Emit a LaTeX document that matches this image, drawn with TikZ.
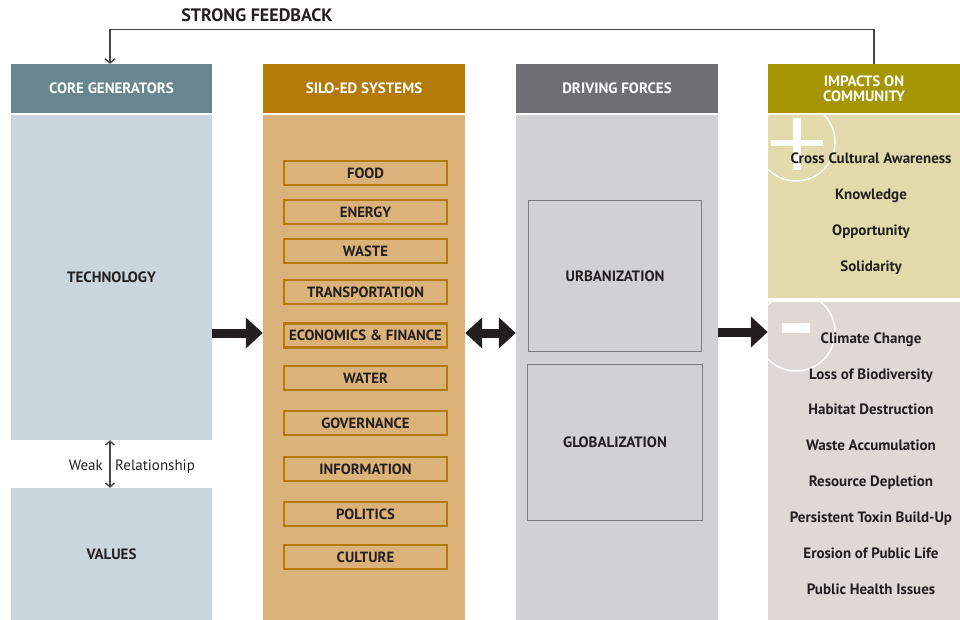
\documentclass[tikz,border=0pt]{standalone}
\usepackage{fontspec}
\setmainfont{PT Sans}
\usetikzlibrary{arrows.meta,positioning,calc}
\definecolor{corehd}{HTML}{678690}
\definecolor{corebg}{HTML}{C9D6DE}
\definecolor{silohd}{HTML}{B37A08}
\definecolor{silobg}{HTML}{DBB27A}
\definecolor{drivehd}{HTML}{6F6E73}
\definecolor{drivebg}{HTML}{D1D1D3}
\definecolor{drivebox}{HTML}{7A797C}
\definecolor{imphd}{HTML}{A59500}
\definecolor{impplus}{HTML}{E2DAAA}
\definecolor{impminus}{HTML}{E0D8D5}
\definecolor{inkdark}{HTML}{231F20}
\definecolor{linegray}{HTML}{444444}
\tikzset{
    colhead/.style = {inner sep=0pt, text=white, align=center, font=\bfseries\fontsize{15}{15}\selectfont},
    colbody/.style = {inner sep=0pt, text=inkdark, font=\bfseries\fontsize{15}{15}\selectfont},
    silobox/.style = {draw=silohd, line width=2.5pt, minimum width=163pt, minimum height=24pt, inner sep=0pt, text=inkdark, font=\bfseries\fontsize{14.8}{15}\selectfont},
    drivebox/.style = {draw=drivebox, line width=1.3pt, minimum width=173pt, inner sep=0pt, text=inkdark, font=\bfseries\fontsize{15}{15}\selectfont},
    imptext/.style = {inner sep=1pt, text height=10.5pt, text depth=0pt, text=inkdark, font=\bfseries\fontsize{15}{15}\selectfont},
    bigarrow/.style = {draw=inkdark, line width=9pt, -{Triangle[length=17pt,width=30pt]}},
    thinarrow/.style = {draw=linegray, line width=1.4pt}
}

\begin{document}
\begin{tikzpicture}[x=1pt,y=-1pt]
    \useasboundingbox (0,0) rectangle (960,620);

    % CORE GENERATORS
    \node[colhead, fill=corehd, minimum width=201pt, minimum height=49pt] (corehead) at (111.5,88.5) {CORE GENERATORS};
    \node[colbody, fill=corebg, minimum width=201pt, minimum height=325pt] (tech) at (111.5,277.5) {TECHNOLOGY};
    \node[colbody, fill=corebg, minimum width=201pt, minimum height=132pt] (values) at (111.5,554) {VALUES};

    % SILO-ED SYSTEMS
    \node[colhead, fill=silohd, minimum width=202pt, minimum height=49pt] (silohead) at (364,88.5) {SILO-ED SYSTEMS};
    \node[colbody, fill=silobg, minimum width=202pt, minimum height=505pt] (silo) at (364,367.5) {};

    \node[silobox] (food) at (365.5,173) {FOOD};
    \node[silobox] (energy) at (365.5,212) {ENERGY};
    \node[silobox] (waste) at (365.5,251) {WASTE};
    \node[silobox] (transport) at (365.5,292) {TRANSPORTATION};
    \node[silobox] (econ) at (365.5,335.5) {ECONOMICS \& FINANCE};
    \node[silobox] (water) at (365.5,378) {WATER};
    \node[silobox] (govern) at (365.5,423) {GOVERNANCE};
    \node[silobox] (info) at (365.5,469) {INFORMATION};
    \node[silobox] (politics) at (365.5,514) {POLITICS};
    \node[silobox] (culture) at (365.5,557) {CULTURE};

    % DRIVING FORCES
    \node[colhead, fill=drivehd, minimum width=202pt, minimum height=49pt] (drivehead) at (617,88.5) {DRIVING FORCES};
    \node[colbody, fill=drivebg, minimum width=202pt, minimum height=505pt] (drive) at (617,367.5) {};
    \node[drivebox, minimum height=151pt] (urban) at (615,276) {URBANIZATION};
    \node[drivebox, minimum width=175pt, minimum height=156pt] (global) at (615,442.5) {GLOBALIZATION};

    % IMPACTS ON COMMUNITY
    \node[colhead, fill=imphd, minimum width=192pt, minimum height=49pt] (imphead) at (864,89) {IMPACTS ON\\COMMUNITY};
    \node[colbody, fill=impplus, minimum width=192pt, minimum height=183pt] (plus) at (864,206.5) {};
    \node[colbody, fill=impminus, minimum width=192pt, minimum height=318pt] (minus) at (864,461) {};

    \begin{scope}
        \clip (plus.north west) rectangle (plus.south east);
        \draw[white, line width=1.5pt] (796,142) circle[radius=39];
    \end{scope}
    \begin{scope}
        \clip (minus.north west) rectangle (minus.south east);
        \draw[white, line width=1.5pt] (796,332) circle[radius=39];
    \end{scope}
    \fill[white] (771,140) rectangle (823,146);
    \fill[white] (793,118) rectangle (801,170);
    \fill[white] (782,323) rectangle (810,333);

    \node[imptext] (awareness) at (871,158) {Cross Cultural Awareness};
    \node[imptext] (knowledge) at (871,194) {Knowledge};
    \node[imptext] (opportunity) at (871,230) {Opportunity};
    \node[imptext] (solidarity) at (871,266) {Solidarity};

    \node[imptext] (climate) at (871,338) {Climate Change};
    \node[imptext] (biodiv) at (871,374) {Loss of Biodiversity};
    \node[imptext] (habitat) at (871,409) {Habitat Destruction};
    \node[imptext] (wasteacc) at (871,445) {Waste Accumulation};
    \node[imptext] (depletion) at (871,481) {Resource Depletion};
    \node[imptext] (toxin) at (871,517) {Persistent Toxin Build-Up};
    \node[imptext] (publife) at (871,553) {Erosion of Public Life};
    \node[imptext] (health) at (871,589) {Public Health Issues};

    %% arrows between columns
    \draw[bigarrow] (tech.east |- 0,333) -- (silo.west |- 0,333);
    \draw[bigarrow, {Triangle[length=17pt,width=30pt]}-{Triangle[length=17pt,width=30pt]}] (silo.east |- 0,333) -- (drive.west |- 0,333);
    \draw[bigarrow] (drive.east |- 0,332) -- (minus.west |- 0,332);

    % weak relationship
    \draw[thinarrow, {Straight Barb[length=4pt,width=9pt]}-{Straight Barb[length=4pt,width=9pt]}] ([xshift=-1.5pt]tech.south) -- ([xshift=-1.5pt]values.north);
    \node[imptext, font=\fontsize{15}{15}\selectfont, anchor=base east] (weak) at (104,470) {Weak};
    \node[imptext, font=\fontsize{15}{15}\selectfont, anchor=base west] (relation) at (114,470) {Relationship};

    % strong feedback
    \draw[thinarrow, -{Straight Barb[length=4pt,width=10pt]}] ([xshift=10pt]imphead.north) -- ++(0,-35) -| ([xshift=-1.5pt]corehead.north);
    \node[imptext, font=\bfseries\fontsize{18}{18}\selectfont] (fbtext) at (257,16) {STRONG FEEDBACK};

\end{tikzpicture}
\end{document}
